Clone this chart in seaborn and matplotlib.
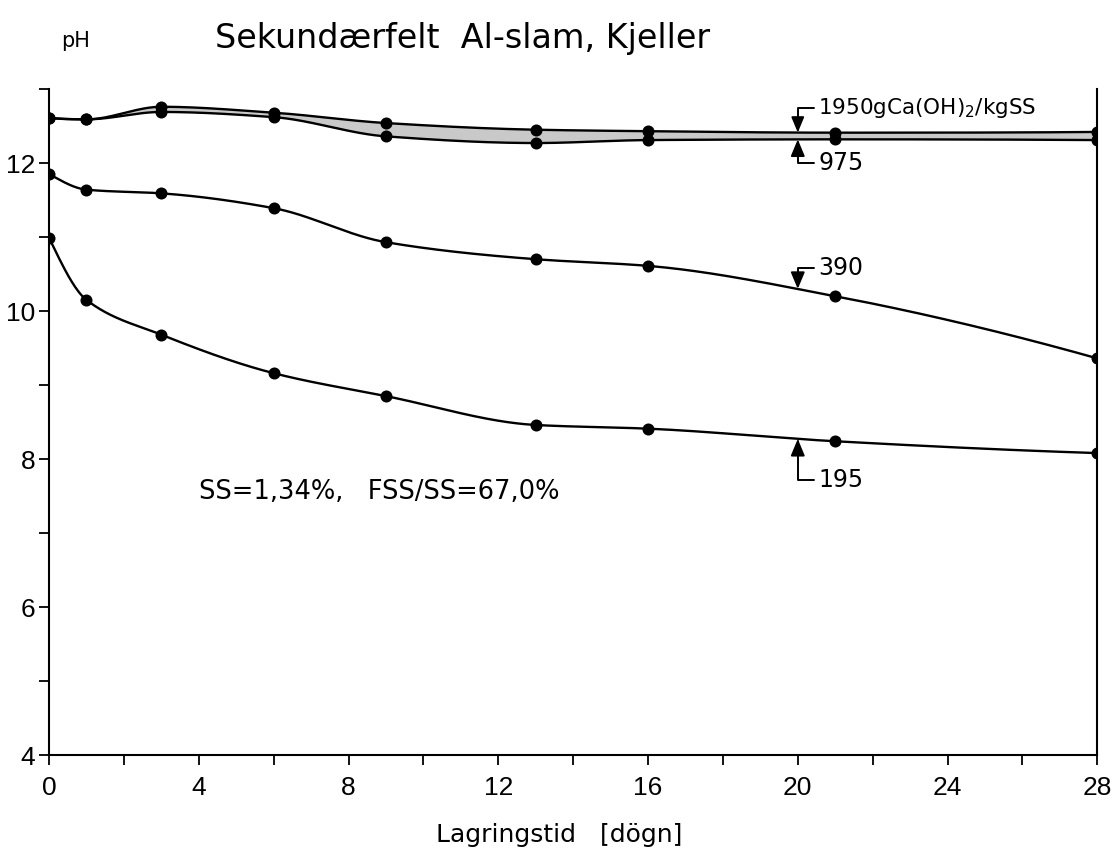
import numpy as np
import pandas as pd
import seaborn as sns
import matplotlib.pyplot as plt

# Lagringstid (døgn) and measured pH for each Ca(OH)2 dose
days = [0, 1, 3, 6, 9, 13, 16, 21, 28]
ph_1950 = [12.61, 12.59, 12.76, 12.68, 12.54, 12.45, 12.43, 12.41, 12.42]
ph_975 = [12.61, 12.59, 12.69, 12.62, 12.36, 12.27, 12.31, 12.32, 12.31]
ph_390 = [11.85, 11.64, 11.59, 11.39, 10.93, 10.70, 10.61, 10.20, 9.36]
ph_195 = [10.99, 10.15, 9.68, 9.16, 8.85, 8.46, 8.41, 8.24, 8.08]

doses = ['1950', '975', '390', '195']
series = {'1950': ph_1950, '975': ph_975, '390': ph_390, '195': ph_195}

# label text and text height for the bracket labels
label_text = {'1950': '1950gCa(OH)$_2$/kgSS', '975': '975', '390': '390', '195': '195'}
label_size = {'1950': 15.5, '975': 17, '390': 17, '195': 17}
label_y = {'1950': 12.74, '975': 12.0, '390': 10.58, '195': 7.72}
label_day = 20

x_ticks = list(range(0, 29, 2))
x_labels = [str(v) if v % 4 == 0 else '' for v in x_ticks]
y_ticks = list(range(4, 14))
y_labels = [str(v) if v % 2 == 0 else '' for v in y_ticks]


def pchip(x, y, xs):
    """Monotone piecewise cubic (Fritsch-Carlson) through the points."""
    x = np.asarray(x, float)
    y = np.asarray(y, float)
    h = np.diff(x)
    d = np.diff(y) / h
    n = len(x)
    m = np.zeros(n)
    for k in range(1, n - 1):
        if d[k - 1] * d[k] > 0:
            w1 = 2 * h[k] + h[k - 1]
            w2 = h[k] + 2 * h[k - 1]
            m[k] = (w1 + w2) / (w1 / d[k - 1] + w2 / d[k])
    # end slopes
    e = ((2 * h[0] + h[1]) * d[0] - h[0] * d[1]) / (h[0] + h[1])
    if np.sign(e) != np.sign(d[0]):
        e = 0
    elif np.sign(d[0]) != np.sign(d[1]) and abs(e) > abs(3 * d[0]):
        e = 3 * d[0]
    m[0] = e
    e = ((2 * h[-1] + h[-2]) * d[-1] - h[-1] * d[-2]) / (h[-1] + h[-2])
    if np.sign(e) != np.sign(d[-1]):
        e = 0
    elif np.sign(d[-1]) != np.sign(d[-2]) and abs(e) > abs(3 * d[-1]):
        e = 3 * d[-1]
    m[-1] = e
    idx = np.clip(np.searchsorted(x, xs) - 1, 0, n - 2)
    t = (xs - x[idx]) / h[idx]
    h00 = 2 * t**3 - 3 * t**2 + 1
    h10 = t**3 - 2 * t**2 + t
    h01 = -2 * t**3 + 3 * t**2
    h11 = t**3 - t**2
    return (h00 * y[idx] + h10 * h[idx] * m[idx]
            + h01 * y[idx + 1] + h11 * h[idx] * m[idx + 1])


sns.set_style('ticks')
plt.rcParams['font.family'] = ['DejaVu Sans']
plt.rcParams['text.color'] = 'black'
plt.rcParams['axes.labelcolor'] = 'black'
plt.rcParams['xtick.color'] = 'black'
plt.rcParams['ytick.color'] = 'black'

narrow = ['Liberation Sans', 'DejaVu Sans']

fig = plt.figure(figsize=(11.14, 8.51), dpi=100)
ax = fig.add_axes([0.044, 0.1128, 0.941, 0.7826])

xs = np.linspace(0, 28, 600)
smooth = {k: pchip(days, series[k], xs) for k in doses}

# grey band between the two top curves, as on the scan
ax.fill_between(xs, smooth['975'], smooth['1950'], color='#c9c9c9', lw=0, zorder=1)

for k in doses:
    ax.plot(xs, smooth[k], color='black', lw=1.7, zorder=2)

pts = pd.DataFrame({
    'day': days * len(doses),
    'pH': sum((series[k] for k in doses), []),
    'dose': np.repeat(doses, len(days)),
})
sns.scatterplot(data=pts, x='day', y='pH', color='black', s=75,
                edgecolor='black', linewidth=0, legend=False, ax=ax, zorder=3)

# bracket labels with arrows pointing at each curve
for k in doses:
    yc = float(pchip(days, series[k], np.array([label_day]))[0])
    ax.annotate(label_text[k], xy=(label_day, yc),
                xytext=(label_day + 0.55, label_y[k]),
                ha='left', va='center', fontsize=label_size[k],
                arrowprops=dict(arrowstyle='-|>,head_length=0.6,head_width=0.25',
                                color='black', lw=1.4,
                                connectionstyle='angle,angleA=0,angleB=90,rad=0',
                                relpos=(0, 0.5), shrinkA=1, shrinkB=0))

ax.text(4.0, 7.55, 'SS=1,34%,   FSS/SS=67,0%', fontsize=18.5, ha='left',
        va='center')

ax.set_xlim(0, 28)
ax.set_ylim(4, 13)
ax.set_xticks(x_ticks)
ax.set_xticklabels(x_labels, fontsize=19, family=narrow)
ax.set_yticks(y_ticks)
ax.set_yticklabels(y_labels, fontsize=19, family=narrow)
ax.tick_params(axis='both', direction='out', length=7, width=1.3, color='black', pad=3)
ax.tick_params(axis='x', pad=8)
ax.set_xlabel('Lagringstid   [dögn]', fontsize=18)
ax.xaxis.set_label_coords(0.487, -0.102)
ax.set_ylabel('')

for side in ['left', 'bottom', 'right']:
    ax.spines[side].set_linewidth(1.5)
    ax.spines[side].set_color('black')
ax.spines['top'].set_visible(False)

fig.text(0.055, 0.952, 'pH', fontsize=15, ha='left', va='center')
fig.text(0.193, 0.955, 'Sekundærfelt  Al-slam, Kjeller', fontsize=24,
         ha='left', va='center')

fig.savefig('out.png', dpi=100)
